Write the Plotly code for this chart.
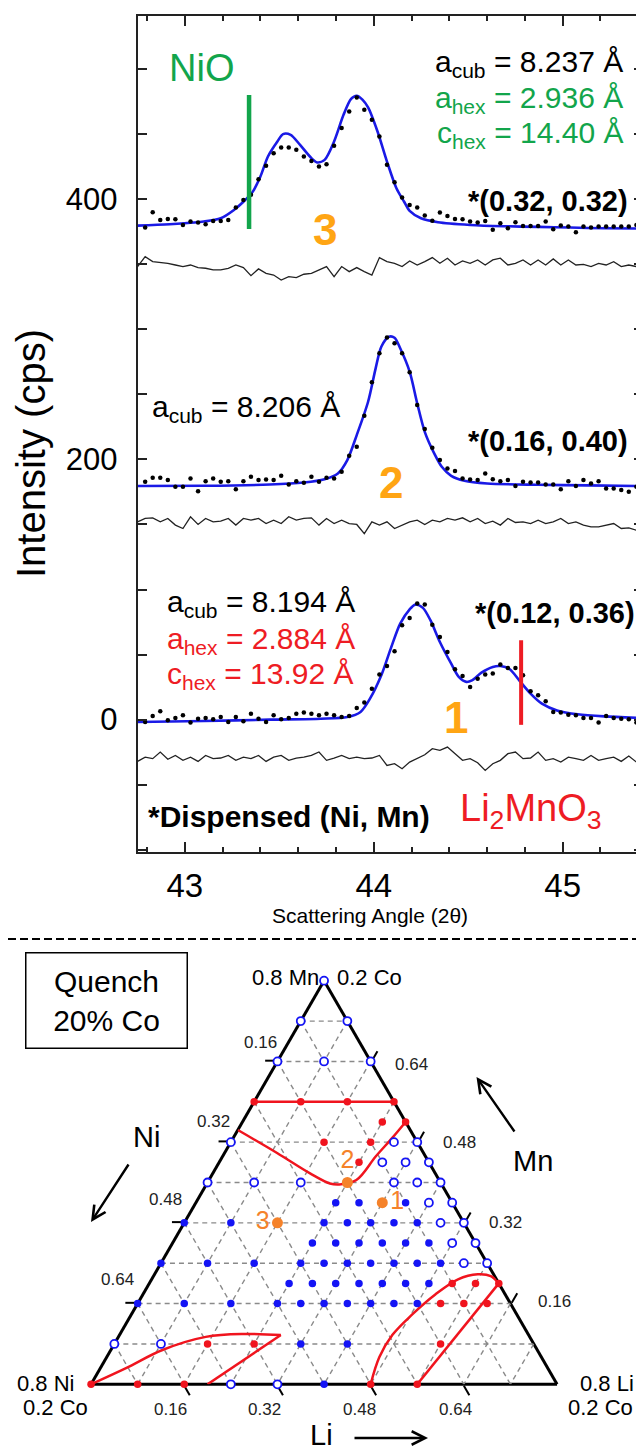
import numpy as np
import plotly.graph_objects as go

# The page body keeps the browser's default 8px margin, so the figure is drawn
# 8px right/down of the window origin; positions below are window pixels.
WIN_W, WIN_H = 644, 1455
OFF = 8
FW, FH = WIN_W - OFF, WIN_H - OFF
FONT = "Liberation Sans, Arial, Helvetica, sans-serif"
GREEN = "#12a54b"
RED = "#ee1c24"
BLUE = "#1a1ae6"
ORANGE_XRD = "#ffa514"
ORANGE_TERN = "#f5822a"
PT_BLUE = "#1414f5"
PT_RED = "#f0141e"

# ---------------- XRD data (2-theta in degrees, intensity in cps) ----------------
dot_2theta = np.round(42.79 + 0.04 * np.arange(67), 2)
resid_2theta = np.concatenate([[42.75], dot_2theta])

obs3 = [378.2, 389.9, 384.0, 384.8, 384.6, 380.2, 382.8, 382.0, 380.7, 383.3,
        383.3, 384.0, 393.5, 399.4, 403.3, 415.3, 425.6, 435.3, 439.7, 439.7,
        437.9, 432.8, 429.4, 425.1, 426.9, 441.0, 454.6, 467.4, 478.2, 468.7,
        461.0, 448.2, 426.4, 413.0, 401.2, 395.6, 393.5, 387.4, 383.5, 389.7,
        387.1, 384.8, 384.6, 382.8, 382.0, 383.3, 376.4, 381.5, 377.6, 382.3,
        379.4, 379.4, 379.4, 382.8, 376.9, 379.7, 378.9, 374.6, 378.9, 378.2,
        378.9, 378.9, 378.9, 378.9, 378.9, 380.2, 380.7]
obs2 = [182.8, 185.9, 185.9, 184.1, 179.0, 179.0, 185.4, 175.6, 183.3, 185.4,
        182.8, 183.3, 177.1, 183.3, 186.6, 184.1, 184.6, 184.1, 187.4, 180.7,
        183.3, 182.0, 186.6, 182.8, 185.9, 185.4, 190.5, 202.8, 209.7, 233.6,
        259.2, 281.5, 293.6, 289.2, 281.5, 266.9, 241.8, 223.3, 209.0, 199.5,
        193.1, 191.0, 185.4, 184.6, 184.1, 189.2, 184.8, 183.3, 184.1, 179.5,
        182.8, 182.3, 182.3, 180.7, 180.7, 177.1, 183.3, 179.5, 184.1, 181.5,
        183.3, 177.7, 177.7, 176.4, 175.1, 179.0, 179.0]
obs1 = [-1.8, 2.8, 6.4, -0.5, 1.2, 3.3, -2.3, 0.7, 1.2, 0.2,
        2.0, -1.8, 2.0, -1.3, 4.6, 0.7, -1.8, 3.3, 0.2, 1.2,
        4.6, 5.4, 4.6, 3.3, 4.6, 3.3, 2.0, 2.8, 9.0, 13.1,
        23.8, 34.6, 41.2, 52.5, 72.5, 78.2, 89.2, 88.4, 73.0, 63.6,
        52.0, 38.7, 33.6, 25.1, 31.5, 34.6, 35.4, 42.3, 39.7, 39.7,
        34.1, 21.8, 18.7, 14.1, 5.9, 5.4, 3.8, 3.3, 1.2, 1.2,
        -2.3, 2.8, 1.2, 0.7, 0.2, -2.3, 0.2]

res3 = [348.2, 355.8, 352.0, 351.5, 350.7, 349.4, 348.2, 349.4, 347.4, 346.9, 345.6,
        345.6, 346.9, 349.4, 347.4, 341.2, 346.4, 343.0, 341.7, 337.9, 340.5,
        339.7, 342.3, 343.0, 345.6, 348.2, 340.5, 348.2, 344.3, 347.4, 344.3,
        341.7, 355.1, 352.0, 350.7, 348.2, 352.5, 349.4, 352.0, 355.1, 350.7,
        354.6, 349.4, 352.5, 350.7, 353.3, 349.4, 353.3, 354.6, 349.4, 350.7,
        353.3, 349.4, 353.3, 349.4, 354.1, 349.4, 353.3, 349.4, 349.9, 348.2,
        350.7, 349.4, 352.0, 348.2, 349.4, 348.2, 349.9]
res2 = [152.0, 154.6, 155.1, 152.0, 154.6, 149.5, 146.9, 155.9, 150.0, 154.6,
        152.0, 152.5, 154.6, 149.5, 154.6, 153.3, 154.6, 150.7, 153.3, 150.7,
        155.9, 153.3, 154.6, 155.1, 149.5, 154.6, 150.7, 153.3, 150.7, 150.0,
        143.0, 152.0, 149.5, 152.0, 146.9, 149.5, 152.0, 153.3, 150.0, 153.3,
        152.0, 154.6, 153.3, 155.1, 152.0, 154.6, 150.7, 152.5, 149.5, 154.6,
        151.5, 152.0, 150.7, 153.3, 150.7, 152.0, 154.6, 150.7, 152.0, 149.5,
        148.2, 148.2, 149.5, 150.7, 146.9, 147.4, 145.6, 149.5]
res1 = [-32.1, -28.8, -30.0, -24.9, -30.5, -27.5, -31.3, -28.8, -32.1, -27.5,
        -30.0, -29.5, -27.5, -31.3, -28.8, -30.0, -27.5, -32.1, -28.8, -27.5,
        -31.3, -29.5, -28.8, -27.5, -24.9, -31.3, -29.5, -27.5, -30.0, -28.8,
        -30.0, -29.5, -27.5, -35.2, -33.9, -37.7, -32.6, -30.0, -27.0, -22.3,
        -23.6, -21.1, -26.2, -31.3, -30.0, -33.1, -39.0, -33.9, -31.3, -26.2,
        -24.9, -30.0, -29.5, -24.9, -31.3, -30.0, -32.6, -28.8, -30.0, -31.3,
        -27.5, -31.3, -30.0, -28.8, -32.1, -28.0, -32.6, -30.0]

fit3_x = [42.75, 42.92, 43.10, 43.19, 43.26, 43.31, 43.36, 43.40, 43.44, 43.49,
          43.52, 43.56, 43.61, 43.67, 43.70, 43.74, 43.79, 43.84, 43.88, 43.91,
          43.94, 43.97, 44.02, 44.07, 44.12, 44.16, 44.19, 44.25, 44.34, 44.51,
          44.69, 44.87, 45.04, 45.22, 45.43]
fit3_y = [379.7, 380.7, 382.8, 385.3, 391.7, 398.0, 405.8, 417.4, 432.8, 444.3,
          450.0, 449.4, 441.7, 431.5, 428.2, 430.2, 444.3, 464.8, 477.0, 479.5,
          476.5, 470.5, 452.0, 428.9, 408.4, 398.2, 391.0, 385.3, 382.3, 380.2,
          379.2, 378.7, 378.2, 377.6, 377.4]
fit2_x = [42.75, 43.10, 43.45, 43.63, 43.74, 43.81, 43.86, 43.91, 43.97, 44.01,
          44.04, 44.08, 44.11, 44.14, 44.19, 44.23, 44.27, 44.32, 44.36, 44.41,
          44.48, 44.60, 44.87, 45.13, 45.43]
fit2_y = [179.5, 179.7, 180.7, 182.3, 184.8, 189.2, 199.5, 218.7, 244.3, 270.0,
          286.6, 294.3, 293.5, 285.4, 267.4, 243.1, 221.2, 204.6, 194.3, 187.4,
          183.6, 181.5, 180.5, 180.0, 179.5]
fit1_x = [42.75, 43.10, 43.45, 43.72, 43.86, 43.93, 43.98, 44.04, 44.09, 44.14,
          44.19, 44.22, 44.26, 44.30, 44.35, 44.41, 44.45, 44.49, 44.52, 44.57,
          44.63, 44.67, 44.72, 44.77, 44.83, 44.89, 44.97, 45.08, 45.22, 45.43]
fit1_y = [-1.8, -1.1, 0.0, 0.7, 2.0, 5.9, 16.1, 34.1, 54.6, 73.8,
          84.8, 88.4, 85.9, 76.4, 59.7, 43.0, 32.8, 29.0, 30.2, 36.1,
          40.5, 41.2, 38.7, 30.2, 20.0, 12.3, 7.1, 4.1, 2.5, 1.2]

nio_2theta, nio_span = 43.34, [377, 480]
li2mno3_2theta, li2mno3_span = 44.78, [-4, 61]

x_ticks = [43, 44, 45]
y_ticks = [0, 200, 400]

# ---------------- Ternary data (Mn, Li fractions; Ni = 0.8 - Mn - Li; Co = 0.2) ----------------
TSUM = 0.8
filled_rows = {0.36: [0.24, 0.28, 0.36],
               0.32: [0.00, 0.08, 0.24, 0.28, 0.32, 0.36, 0.40],
               0.28: [0.24, 0.28, 0.32, 0.36, 0.40, 0.44],
               0.24: [0.00, 0.08, 0.16, 0.24, 0.28, 0.32, 0.36, 0.40, 0.44, 0.48],
               0.20: [0.24, 0.28, 0.32, 0.36, 0.40, 0.44, 0.48],
               0.16: [0.00, 0.08, 0.16, 0.24, 0.28, 0.32, 0.36, 0.40, 0.44, 0.48],
               0.08: [0.32, 0.40],
               0.00: [0.40]}
open_rows = {0.80: [0.00],
             0.72: [0.00, 0.08],
             0.64: [0.00, 0.08, 0.16],
             0.48: [0.00, 0.28, 0.32],
             0.44: [0.28, 0.32, 0.36],
             0.40: [0.00, 0.08, 0.16, 0.32, 0.36, 0.40],
             0.36: [0.40, 0.44],
             0.32: [0.44, 0.48],
             0.28: [0.48, 0.52],
             0.24: [0.52, 0.56],
             0.08: [0.00, 0.08],
             0.00: [0.24, 0.32]}
red_rows = {0.56: [0.00, 0.08, 0.16, 0.24],
            0.52: [0.24, 0.28],
            0.48: [0.16, 0.24],
            0.44: [0.24],
            0.20: [0.52, 0.56, 0.60],
            0.16: [0.52, 0.56, 0.60],
            0.08: [0.16, 0.24, 0.56],
            0.00: [0.00, 0.08, 0.16, 0.48, 0.56]}
sample_labels = ["1", "2", "3"]
sample_mn = [0.36, 0.40, 0.32]
sample_li = [0.32, 0.24, 0.16]

bound_top_mn, bound_top_li = [0.56, 0.56], [0.00, 0.24]
bound_mid_mn = [0.504, 0.458, 0.418, 0.398, 0.396, 0.405, 0.452, 0.489, 0.52]
bound_mid_li = [0.000, 0.091, 0.167, 0.211, 0.228, 0.253, 0.263, 0.273, 0.28]
bound_ll_up_mn = [0.0, 0.032, 0.068, 0.094, 0.0996, 0.0976]
bound_ll_up_li = [0.0, 0.044, 0.0885, 0.150, 0.213, 0.277]
bound_ll_lo_mn, bound_ll_lo_li = [0.0976, 0.0], [0.277, 0.20]
bound_lr_up_mn = [0.0, 0.054, 0.098, 0.138, 0.178, 0.208, 0.218, 0.2145, 0.20]
bound_lr_up_li = [0.48, 0.468, 0.4685, 0.482, 0.502, 0.526, 0.555, 0.579, 0.60]
bound_lr_lo_mn, bound_lr_lo_li = [0.20, 0.0], [0.60, 0.56]

tern_grid = [0.08 * k for k in range(1, 10)]
tern_ticks = [0.16, 0.32, 0.48, 0.64]
tern_tick_labels = ["0.16", "0.32", "0.48", "0.64"]


def expand(rows):
    mn, li = [], []
    for m, lis in rows.items():
        for l in lis:
            mn.append(m)
            li.append(l)
    return mn, li


def nib(mn, li):
    return [max(0.0, round(TSUM - m - l, 4)) for m, l in zip(mn, li)]


fig = go.Figure()

# ---------- XRD traces ----------
for res, fx, fy, obs in [(res3, fit3_x, fit3_y, obs3), (res2, fit2_x, fit2_y, obs2), (res1, fit1_x, fit1_y, obs1)]:
    fig.add_trace(go.Scatter(x=resid_2theta, y=res, mode="lines",
                             line=dict(color="#222222", width=1.3), xaxis="x", yaxis="y"))
    fig.add_trace(go.Scatter(x=fx, y=fy, mode="lines",
                             line=dict(color=BLUE, width=2.6, shape="spline", smoothing=0.8),
                             xaxis="x", yaxis="y"))
    fig.add_trace(go.Scatter(x=dot_2theta, y=obs, mode="markers",
                             marker=dict(color="black", size=4.5), xaxis="x", yaxis="y"))

fig.add_trace(go.Scatter(x=[nio_2theta, nio_2theta], y=nio_span, mode="lines",
                         line=dict(color=GREEN, width=4.5), xaxis="x", yaxis="y"))
fig.add_trace(go.Scatter(x=[li2mno3_2theta, li2mno3_2theta], y=li2mno3_span, mode="lines",
                         line=dict(color=RED, width=4), xaxis="x", yaxis="y"))

# ---------- Ternary traces ----------
ga, gb, gc = [], [], []
for v in tern_grid:
    r = TSUM - v
    ga += [v, v, None, r, 0, None, r, 0, None]
    gb += [r, 0, None, v, v, None, 0, r, None]
    gc += [0, r, None, 0, r, None, v, v, None]
fig.add_trace(go.Scatterternary(a=ga, b=gb, c=gc, mode="lines",
                                line=dict(color="#8a8a8a", width=1.4, dash="5px,4px"),
                                hoverinfo="skip"))

for mn, li, shape in [(bound_top_mn, bound_top_li, "linear"),
                      (bound_mid_mn, bound_mid_li, "spline"),
                      (bound_ll_up_mn, bound_ll_up_li, "spline"),
                      (bound_ll_lo_mn, bound_ll_lo_li, "linear"),
                      (bound_lr_up_mn, bound_lr_up_li, "spline"),
                      (bound_lr_lo_mn, bound_lr_lo_li, "linear")]:
    fig.add_trace(go.Scatterternary(a=mn, b=nib(mn, li), c=li, mode="lines",
                                    line=dict(color=PT_RED, width=2.5, shape=shape)))

mn, li = expand(open_rows)
fig.add_trace(go.Scatterternary(a=mn, b=nib(mn, li), c=li, mode="markers", cliponaxis=False,
                                marker=dict(symbol="circle", size=8, color="white",
                                            line=dict(color=PT_BLUE, width=1.8))))
mn, li = expand(filled_rows)
fig.add_trace(go.Scatterternary(a=mn, b=nib(mn, li), c=li, mode="markers", cliponaxis=False,
                                marker=dict(symbol="circle", size=7.5, color=PT_BLUE)))
mn, li = expand(red_rows)
fig.add_trace(go.Scatterternary(a=mn, b=nib(mn, li), c=li, mode="markers", cliponaxis=False,
                                marker=dict(symbol="circle", size=7.5, color=PT_RED)))
fig.add_trace(go.Scatterternary(a=sample_mn, b=nib(sample_mn, sample_li), c=sample_li,
                                mode="markers+text", cliponaxis=False,
                                text=sample_labels,
                                textposition=["middle right", "top center", "middle left"],
                                textfont=dict(size=25, color=ORANGE_TERN, family=FONT),
                                marker=dict(symbol="circle", size=11, color=ORANGE_TERN)))


def FX(x):
    return (x - OFF) / FW


def FY(y):
    return 1 - (y - OFF) / FH


anns = []


def ann(text, x, y, size, color="black", xanchor="center", textangle=0):
    anns.append(dict(x=FX(x), y=FY(y), xref="paper", yref="paper", text=text, showarrow=False,
                     font=dict(size=size, color=color, family=FONT), xanchor=xanchor,
                     yanchor="middle", textangle=textangle))


ann("NiO", 201, 68, 38, GREEN)
ann("a<sub>cub</sub> = 8.237 Å", 625, 64, 30, "black", "right")
ann("a<sub>hex</sub> = 2.936 Å", 625, 99, 30, GREEN, "right")
ann("c<sub>hex</sub> = 14.40 Å", 625, 135, 30, GREEN, "right")
ann("<b>*(0.32, 0.32)</b>", 630, 201, 29, "black", "right")
ann("<b>3</b>", 325, 229, 44, ORANGE_XRD)
ann("a<sub>cub</sub> = 8.206 Å", 150, 408, 30, "black", "left")
ann("<b>*(0.16, 0.40)</b>", 630, 441, 29, "black", "right")
ann("<b>2</b>", 391, 483, 44, ORANGE_XRD)
ann("a<sub>cub</sub> = 8.194 Å", 165, 603, 30, "black", "left")
ann("a<sub>hex</sub> = 2.884 Å", 165, 640, 30, RED, "left")
ann("c<sub>hex</sub> = 13.92 Å", 165, 675, 30, RED, "left")
ann("<b>*(0.12, 0.36)</b>", 637, 613, 29, "black", "right")
ann("<b>1</b>", 456, 717, 44, ORANGE_XRD)
ann("<b>*Dispensed (Ni, Mn)</b>", 146, 817, 30, "black", "left")
ann("Li<sub>2</sub>MnO<sub>3</sub>", 531, 811, 38, RED)
ann("Intensity (cps)", 31, 454, 40, "black", "center", -90)
ann("Scattering Angle (2θ)", 370, 915, 21)

ann("0.8 Mn", 285, 977, 22)
ann("0.2 Co", 369, 977, 22)
ann("0.8 Ni", 45, 1383, 22)
ann("0.2 Co", 55, 1407, 22)
ann("0.8 Li", 607, 1383, 22)
ann("0.2 Co", 600, 1407, 22)
ann("Ni", 146, 1137, 29)
ann("Mn", 533, 1161, 29)
ann("Li", 321, 1435, 29)

# ternary edge labels (Ni along the left edge, Mn along the right edge, Li along the bottom)
for t, (lx, ly), (rx, ry), (bx, by) in zip(tern_tick_labels,
                                           [(260.5, 1042), (213, 1121.5), (165, 1199), (117, 1279)],
                                           [(554.5, 1301.7), (505.5, 1222), (460, 1142.7), (411, 1064.5)],
                                           [(170, 1409), (264, 1409), (359.5, 1409), (455, 1409)]):
    ann(t, lx, ly, 17, "#222222")
    ann(t, rx, ry, 17, "#222222")
    ann(t, bx, by, 17, "#222222")

anns.append(dict(x=FX(106.6), y=FY(1000.9), xref="paper", yref="paper", text="Quench<br>20% Co",
                 showarrow=False, font=dict(size=30, color="black", family=FONT),
                 xanchor="center", yanchor="middle",
                 bordercolor="black", borderwidth=1.5, borderpad=0, width=160, height=94,
                 bgcolor="white"))

for (hx, hy), (tx, ty) in [((91, 1222), (129.5, 1163)),
                           ((476.5, 1077), (515.5, 1133)),
                           ((428, 1438), (353, 1438))]:
    anns.append(dict(x=FX(hx), y=FY(hy), xref="paper", yref="paper", text="", showarrow=True,
                     ax=tx - hx, ay=ty - hy, axref="pixel", ayref="pixel",
                     arrowhead=5, arrowsize=1.1, arrowwidth=2.4, arrowcolor="black"))

tern_ax = dict(min=0, tickmode="array", tickvals=tern_ticks,
               ticks="outside", ticklen=11, tickwidth=2, tickcolor="black",
               showticklabels=False,
               showgrid=False, showline=True, linecolor="black", linewidth=3,
               layer="below traces", title=dict(text=""))

tw = 466
th = tw * np.sqrt(3) / 2
tcx, tcy = 324.05, 1182.5

fig.update_layout(
    width=FW, height=FH, margin=dict(l=0, r=0, t=0, b=0),
    paper_bgcolor="white", plot_bgcolor="white", showlegend=False,
    font=dict(family=FONT, color="black"),
    xaxis=dict(domain=[FX(137.6), FX(642.5)], range=[42.75, 45.4225], tickvals=x_ticks,
               ticks="inside", ticklen=10, tickwidth=1.5, tickcolor="#222222",
               minor=dict(dtick=0.2, ticks="inside", ticklen=5, tickwidth=1.5, tickcolor="#222222"),
               showline=True, linecolor="#222222", linewidth=2, mirror="ticks",
               showgrid=False, zeroline=False, tickfont=dict(size=33, family=FONT),
               ticklabelstandoff=4, anchor="y"),
    yaxis=dict(domain=[FY(851.7), FY(15.7)], range=[-101.5, 541], tickvals=y_ticks,
               ticks="inside", ticklen=9, tickwidth=1.5, tickcolor="#222222",
               minor=dict(dtick=50, ticks="inside", ticklen=9, tickwidth=1.5, tickcolor="#222222"),
               showline=True, linecolor="#222222", linewidth=2, mirror="ticks",
               showgrid=False, zeroline=False, tickfont=dict(size=31, family=FONT),
               ticklabelstandoff=12, anchor="x"),
    ternary=dict(sum=TSUM, bgcolor="white",
                 domain=dict(x=[FX(tcx - tw / 2), FX(tcx + tw / 2)],
                             y=[FY(tcy + th / 2 + 1), FY(tcy - th / 2 - 1)]),
                 aaxis=tern_ax, baxis=tern_ax, caxis=tern_ax),
    annotations=anns,
    shapes=[dict(type="line", xref="paper", yref="paper", x0=0, x1=1, y0=FY(939), y1=FY(939),
                 line=dict(color="black", width=2, dash="8px,4px"))],
)

fig.write_html("out.html")
